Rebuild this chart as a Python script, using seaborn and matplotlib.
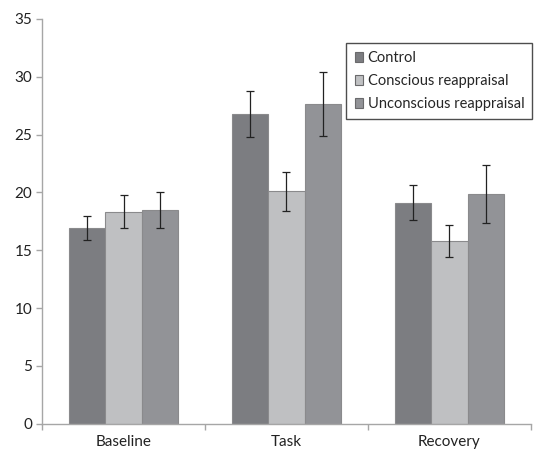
import matplotlib
matplotlib.use("Agg")
import matplotlib.pyplot as plt
import seaborn as sns
import pandas as pd
import numpy as np

# Measurement phases and condition groups
phases = ["Baseline", "Task", "Recovery"]
conditions = ["Control", "Conscious reappraisal", "Unconscious reappraisal"]

# Group means per phase (Control, Conscious, Unconscious)
control_means = [16.9, 26.8, 19.1]
conscious_means = [18.35, 20.1, 15.8]
unconscious_means = [18.5, 27.65, 19.9]

# Standard errors per phase
control_err = [1.05, 2.0, 1.5]
conscious_err = [1.45, 1.7, 1.4]
unconscious_err = [1.55, 2.75, 2.5]

y_ticks = [0, 5, 10, 15, 20, 25, 30, 35]

sns.set_theme(style="white")
plt.rcParams["font.family"] = ["Lato", "DejaVu Sans"]

rows = []
for cond, means, errs in [(conditions[0], control_means, control_err),
                          (conditions[1], conscious_means, conscious_err),
                          (conditions[2], unconscious_means, unconscious_err)]:
    for ph, m, e in zip(phases, means, errs):
        rows.append({"phase": ph, "condition": cond, "value": m, "err": e})
df = pd.DataFrame(rows)

palette = {conditions[0]: "#7c7d81", conditions[1]: "#bfc0c2", conditions[2]: "#929397"}

fig = plt.figure(figsize=(5.4, 4.49), dpi=100)
ax = fig.add_axes([0.078, 0.056, 0.905, 0.902])

sns.barplot(data=df, x="phase", y="value", hue="condition", order=phases,
            hue_order=conditions, palette=palette, errorbar=None,
            width=0.67, saturation=1, edgecolor="#8a8a8c", linewidth=0.8, ax=ax)

# error bars placed on the drawn bar centres
for cond, container in zip(conditions, ax.containers):
    sub = df[df["condition"] == cond].set_index("phase").loc[phases]
    xs = [p.get_x() + p.get_width() / 2 for p in container.patches]
    ax.errorbar(xs, sub["value"].values, yerr=sub["err"].values, fmt="none",
                ecolor="#222222", elinewidth=0.9, capsize=2.6, capthick=0.9, zorder=5)

ax.set_ylim(0, 35)
ax.set_xlim(-0.5, 2.5)
ax.set_yticks(y_ticks)
ax.set_xlabel("")
ax.set_ylabel("")

for side in ["top", "right"]:
    ax.spines[side].set_visible(False)
for side in ["left", "bottom"]:
    ax.spines[side].set_color("#a6a6a6")
    ax.spines[side].set_linewidth(1.0)

ax.tick_params(axis="y", which="major", length=4, width=1, color="#a6a6a6",
               labelsize=11, labelcolor="#222222", pad=3, left=True)
ax.tick_params(axis="x", which="major", length=0, labelsize=11,
               labelcolor="#222222", pad=8)
ax.set_xticks([-0.5, 0.5, 1.5, 2.5], minor=True)
ax.tick_params(axis="x", which="minor", length=4, width=1, color="#a6a6a6", bottom=True)

leg = ax.legend(loc="upper right", bbox_to_anchor=(1.003, 0.94), frameon=True,
                fancybox=False, edgecolor="#222222", fontsize=10.5,
                handlelength=0.6, handleheight=0.6, handletextpad=0.3,
                borderpad=0.55, labelspacing=0.62, borderaxespad=0.0)
leg.get_frame().set_linewidth(1.0)
for h in leg.legend_handles:
    h.set_edgecolor("#6a6a6c")

fig.savefig("out.png", dpi=100)
